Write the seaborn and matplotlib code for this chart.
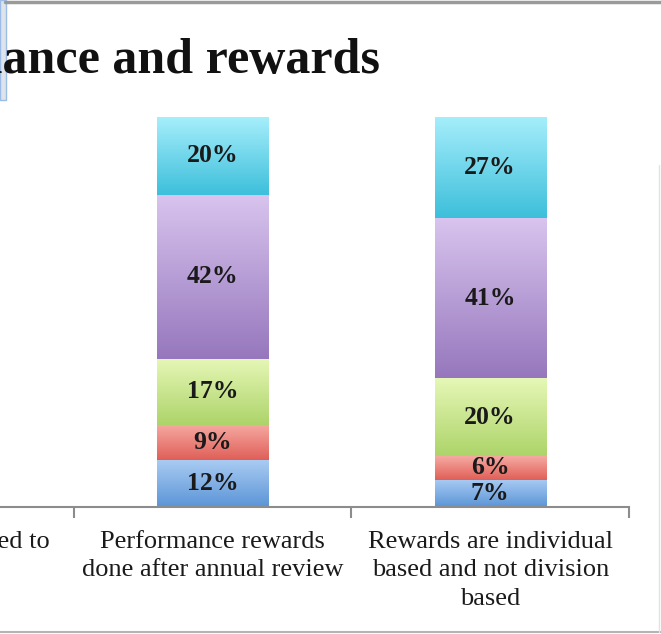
import numpy as np
import pandas as pd
import seaborn as sns
import matplotlib.pyplot as plt
from matplotlib.colors import LinearSegmentedColormap
from matplotlib.lines import Line2D
from matplotlib.patches import Rectangle

# categories on the x axis (first one is mostly cropped away in the reference)
categories = ["Increments are tied to\nresults",
              "Performance rewards\ndone after annual review",
              "Rewards are individual\nbased and not division\nbased"]
shown = categories[1:]

# stacked segments, bottom to top (percent)
levels = ["Strongly disagree", "Disagree", "Neutral", "Agree", "Strongly agree"]
strongly_disagree = [12, 7]
disagree = [9, 6]
neutral = [17, 20]
agree = [42, 41]
strongly_agree = [20, 27]
series = [strongly_disagree, disagree, neutral, agree, strongly_agree]

# (light top, dark bottom) of each gradient fill
shades = [("#a9cbf3", "#5b95d6"),
          ("#f6aaa2", "#df5f58"),
          ("#e6f7b6", "#add46a"),
          ("#d8c4ee", "#9677bd"),
          ("#a6eefb", "#3dbfdb")]

sns.set_style("white")
plt.rcParams['font.family'] = ['Liberation Serif', 'DejaVu Serif']

fig = plt.figure(figsize=(6.61, 6.34), dpi=100)
W, H = 661, 634
ax = fig.add_axes([-204 / W, (H - 507) / H, 833 / W, 390 / H])
YMAX = 100

bottom = np.zeros(len(shown))
for name, vals, (top_c, bot_c) in zip(levels, series, shades):
    sns.barplot(x=shown, y=vals, order=categories, bottom=bottom, width=0.4,
                color=bot_c, errorbar=None, ax=ax, edgecolor="white",
                linewidth=0.8, label=name)
    cont = ax.containers[-1]
    cmap = LinearSegmentedColormap.from_list(name, [bot_c, top_c])
    grad = np.linspace(0, 1, 200).reshape(-1, 1)
    for p in cont.patches:
        x0, y0, w, h = p.get_x(), p.get_y(), p.get_width(), p.get_height()
        y1 = min(y0 + h, YMAX)
        ax.imshow(grad, cmap=cmap, aspect="auto", origin="lower",
                  extent=[x0, x0 + w, y0, y1], zorder=p.get_zorder() + 0.1)
    ax.bar_label(cont, labels=[f"{v}%" for v in vals], label_type="center",
                 fontsize=18.5, fontweight="bold", color="#1a1a1a", zorder=5)
    bottom = bottom + np.array(vals)

ax.set_xlim(-0.5, 2.5)
ax.set_ylim(0, YMAX)
ax.set_xlabel("")
ax.set_ylabel("")
ax.yaxis.set_visible(False)
for s in ["left", "top", "right"]:
    ax.spines[s].set_visible(False)
ax.spines["bottom"].set_color("#8c8c8c")
ax.spines["bottom"].set_linewidth(1.5)
ax.set_xticks(range(3))
ax.set_xticklabels(categories, fontsize=19, color="#1a1a1a", linespacing=1.4)
ax.set_xticks([0.5, 1.5, 2.5], minor=True)
ax.tick_params(axis="x", which="major", length=0, pad=17)
ax.tick_params(axis="x", which="minor", length=8, width=1.5, color="#8c8c8c",
               direction="out", bottom=True)
if ax.get_legend() is not None:
    ax.get_legend().remove()

fig.text(380 / W, 1 - 73 / H, "Performance and rewards", ha="right",
         va="baseline", fontsize=36, fontweight="bold", color="#111111")

# frame remnants of the cropped slide
fig.add_artist(Line2D([5 / W, 1], [1 - 2 / H, 1 - 2 / H], color="#9a9a9a", lw=2.5))
fig.add_artist(Line2D([0, 1], [2 / H, 2 / H], color="#b4b4b4", lw=1.5))
fig.add_artist(Line2D([659 / W, 659 / W], [2 / H, 1 - 165 / H], color="#e2e2e2", lw=1))
fig.add_artist(Rectangle((0, 1 - 100 / H), 6 / W, 100 / H, transform=fig.transFigure,
                         facecolor="#dfe4ea", edgecolor="#9bbce6", lw=1))

fig.savefig("out.png", dpi=100)
